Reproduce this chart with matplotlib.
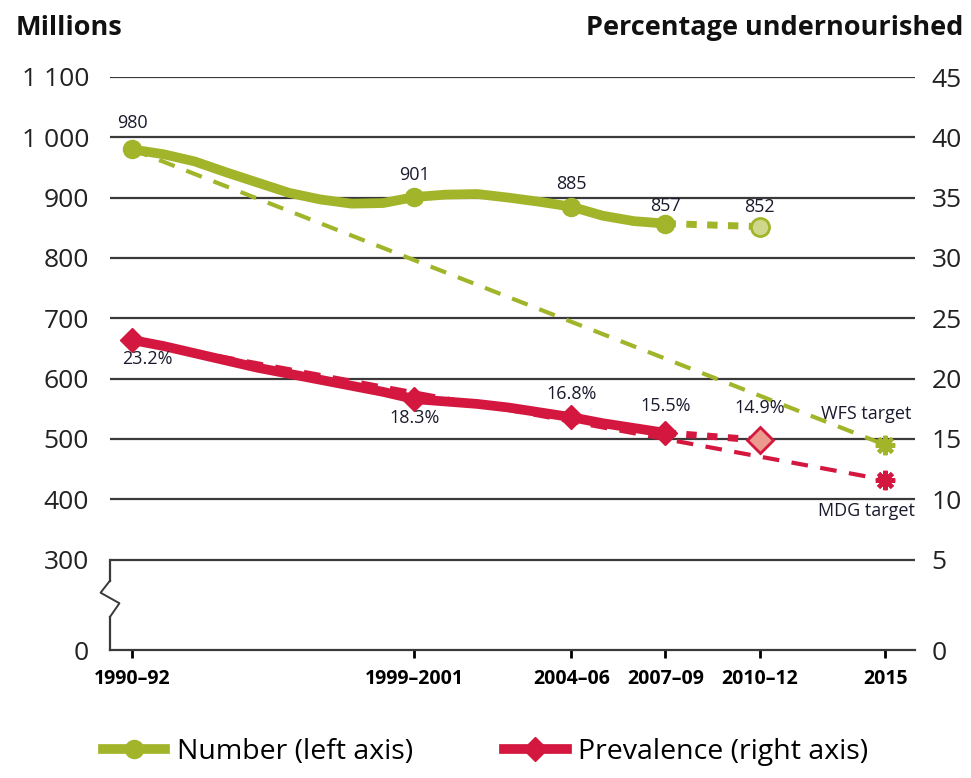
import matplotlib
matplotlib.use('Agg')
import matplotlib.pyplot as plt
import numpy as np

plt.rcParams['font.family'] = ['Open Sans', 'DejaVu Sans']

# data
years = [1991, 1992, 1993, 1994, 1995, 1996, 1997, 1998, 1999, 2000,
         2001, 2002, 2003, 2004, 2005, 2006, 2007, 2008]
number = [980, 972, 960, 942, 925, 908, 897, 890, 891, 901,
          905, 906, 900, 893, 885, 870, 861, 857]
prevalence = [23.2, 22.7, 22.1, 21.5, 20.9, 20.4, 19.9, 19.4, 18.9, 18.3,
              18.1, 17.9, 17.6, 17.2, 16.8, 16.3, 15.9, 15.5]
key_years = [1991, 2000, 2005, 2008]
key_number = [980, 901, 885, 857]
key_prev = [23.2, 18.3, 16.8, 15.5]
proj_years = [2008, 2011]
proj_number = [857, 852]
proj_prev = [15.5, 14.9]
target_years = [1991, 2015]
wfs_target = [980, 490]
mdg_target = [23.2, 11.6]
tick_years = [1991, 2000, 2005, 2008, 2011, 2015]
tick_labels = ['1990–92', '1999–2001', '2004–06', '2007–09', '2010–12', '2015']
num_labels = ['980', '901', '885', '857', '852']
prev_labels = ['23.2%', '18.3%', '16.8%', '15.5%', '14.9%']

green = '#a2b52a'
red = '#d3173f'
green_light = '#cfd88a'
red_light = '#ec9a8e'
txt = '#1a1a2e'


# broken axes: 0..300 squeezed into half the space
def fwd_l(v):
    v = np.asarray(v, dtype=float)
    return np.where(v >= 300, v, 150 + v * 0.5)


def inv_l(u):
    u = np.asarray(u, dtype=float)
    return np.where(u >= 300, u, (u - 150) * 2)


def fwd_r(r):
    r = np.asarray(r, dtype=float)
    return np.where(r >= 5, 300 + (r - 5) * 20, 150 + r * 30)


def inv_r(u):
    u = np.asarray(u, dtype=float)
    return np.where(u >= 300, 5 + (u - 300) / 20, (u - 150) / 30)


fig = plt.figure(figsize=(9.71, 7.78), dpi=100)
ax = fig.add_axes([110 / 971, 1 - 650 / 778, 805 / 971, 573 / 778])
ax2 = ax.twinx()

ax.set_yscale('function', functions=(fwd_l, inv_l))
ax2.set_yscale('function', functions=(fwd_r, inv_r))
ax.set_ylim(0, 1100)
ax2.set_ylim(0, 45)
ax.set_xlim(1990.3, 2015.95)

ax.set_yticks([0, 300, 400, 500, 600, 700, 800, 900, 1000, 1100])
ax.set_yticklabels(['0', '300', '400', '500', '600', '700', '800', '900', '1 000', '1 100'])
ax2.set_yticks([0, 5, 10, 15, 20, 25, 30, 35, 40, 45])
ax.tick_params(axis='y', length=0, labelsize=19, pad=15, labelcolor='#222222')
ax2.tick_params(axis='y', length=0, labelsize=19, pad=12, labelcolor='#222222')
ax.set_xticks(tick_years)
ax.set_xticklabels(tick_labels, fontsize=14, fontweight='bold')
ax.tick_params(axis='x', length=6, width=2, pad=8)

for v in [300, 400, 500, 600, 700, 800, 900, 1000, 1100]:
    ax.axhline(v, color='#3a3a3a', lw=1.6, zorder=1)

for s in ['top', 'right', 'left']:
    ax.spines[s].set_visible(False)
for s in ax2.spines.values():
    s.set_visible(False)
ax.spines['bottom'].set_color('#3a3a3a')
ax.spines['bottom'].set_linewidth(1.6)

# left spine from 0 to 300 with a zigzag break
ax.plot([1990.3, 1990.3], [0, 110], color='#3a3a3a', lw=1.6, clip_on=False)
ax.plot([1990.3, 1990.3], [230, 300], color='#3a3a3a', lw=1.6, clip_on=False)
ax.plot([1990.3, 1990.6, 1990.0, 1990.3], [110, 155, 190, 230],
        color='#3a3a3a', lw=1.4, clip_on=False)

# targets
ax.plot(target_years, wfs_target, color=green, lw=3, ls=(0, (4, 3)), zorder=3)
ax.plot([2015], [wfs_target[1]], marker=(8, 2, 0), ms=14, mew=3, color=green, zorder=5)
ax2.plot(target_years, mdg_target, color=red, lw=3, ls=(0, (4, 3)), zorder=3)
ax2.plot([2015], [mdg_target[1]], marker=(8, 2, 0), ms=14, mew=3, color=red, zorder=5)

# projections
ax.plot(proj_years, proj_number, color=green, lw=5, ls=(0, (1.5, 1.5)), zorder=3)
ax.plot([2011], [proj_number[1]], 'o', ms=13, mfc=green_light, mec=green, mew=2, zorder=5)
ax2.plot(proj_years, proj_prev, color=red, lw=5, ls=(0, (1.5, 1.5)), zorder=3)
ax2.plot([2011], [proj_prev[1]], 'D', ms=13, mfc=red_light, mec=red, mew=2, zorder=5)

# main series
ax.plot(years, number, color=green, lw=7, solid_capstyle='round', zorder=4)
ax.plot(key_years, key_number, 'o', ms=13, color=green, zorder=5)
ax2.plot(years, prevalence, color=red, lw=7, solid_capstyle='round', zorder=4)
ax2.plot(key_years, key_prev, 'D', ms=12, color=red, zorder=5)

# value labels
num_pos = [(1991, 1008), (2000, 922), (2005, 908), (2008, 872), (2011, 869)]
for (x, y), s in zip(num_pos, num_labels):
    ax.text(x, y, s, fontsize=13, color=txt, ha='center', va='bottom', zorder=6)
prev_pos = [(1991.5, 20.9), (2000, 16.0), (2005, 18.0), (2008, 17.0), (2011, 16.8)]
for (x, y), s in zip(prev_pos, prev_labels):
    ax2.text(x, y, s, fontsize=13, color=txt, ha='center', va='bottom', zorder=6)

ax2.text(2014.4, 16.3, 'WFS target', fontsize=13, color=txt, ha='center', va='bottom')
ax2.text(2014.4, 9.8, 'MDG target', fontsize=13, color=txt, ha='center', va='top')

fig.text(16 / 971, 1 - 28 / 778, 'Millions', fontsize=19.5, fontweight='bold',
         color='#111111', va='center', ha='left')
fig.text(963 / 971, 1 - 28 / 778, 'Percentage undernourished', fontsize=19.5,
         fontweight='bold', color='#111111', va='center', ha='right')

# legend
h1, = ax.plot([], [], color=green, lw=7, marker='o', ms=13)
h2, = ax.plot([], [], color=red, lw=7, marker='D', ms=12)
fig.legend([h1, h2], ['Number (left axis)', 'Prevalence (right axis)'],
           loc='center', bbox_to_anchor=(0.5, 1 - 752 / 778), ncol=2, frameon=False,
           fontsize=20.5, handlelength=2.2, columnspacing=3.2, handletextpad=0.4)

fig.savefig('out.png', dpi=100)
